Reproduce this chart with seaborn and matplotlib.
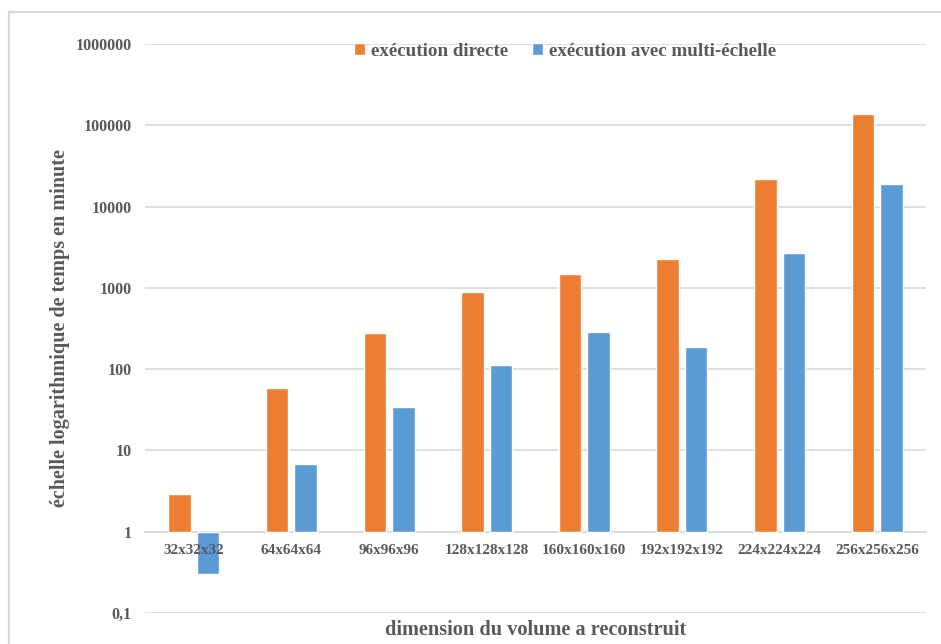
import matplotlib
matplotlib.use('Agg')
import matplotlib.pyplot as plt
import numpy as np
import pandas as pd
import seaborn as sns
from matplotlib.patches import Rectangle
from matplotlib.ticker import FixedLocator

# Data (minutes)
categories = ['32x32x32', '64x64x64', '96x96x96', '128x128x128',
              '160x160x160', '192x192x192', '224x224x224', '256x256x256']
direct = [2.9, 58, 275, 890, 1480, 2250, 21700, 137000]
multi = [0.3, 6.8, 34, 113, 285, 188, 2680, 18800]
series = ['exécution directe', 'exécution avec multi-échelle']
tick_values = [0.1, 1, 10, 100, 1000, 10000, 100000, 1000000]
tick_labels = ['0,1', '1', '10', '100', '1000', '10000', '100000', '1000000']

df = pd.DataFrame({
    'dim': categories * 2,
    'serie': [series[0]] * len(categories) + [series[1]] * len(categories),
    'temps': direct + multi,
})
# Excel-style log axis crossing at 1: bars drawn in log10 units from 0
df['log_temps'] = np.log10(df['temps'])

sns.set_style('white')
plt.rcParams['font.family'] = ['Liberation Serif', 'DejaVu Serif']
plt.rcParams['font.weight'] = 'bold'
txt = '#595959'
grid = '#D9D9D9'

fig = plt.figure(figsize=(9.41, 6.44), dpi=100)
ax = fig.add_axes([145 / 941, 1 - 613 / 644, 781 / 941, 569 / 644])

sns.barplot(data=df, x='dim', y='log_temps', hue='serie',
            palette=['#ED7D31', '#5B9BD5'], width=0.585, gap=0.21,
            saturation=1, ax=ax, zorder=2)

ax.set_xlim(-0.5, len(categories) - 0.5)
ax.set_ylim(np.log10(tick_values[0]), np.log10(tick_values[-1]))
ax.yaxis.set_major_locator(FixedLocator(np.log10(tick_values)))
ax.set_yticklabels(tick_labels)
ax.yaxis.grid(True, color=grid, linewidth=1.2)
ax.set_axisbelow(True)
ax.xaxis.set_zorder(4)  # category labels sit over the negative bar

for s in ['top', 'right', 'left']:
    ax.spines[s].set_visible(False)
ax.spines['bottom'].set_position(('data', 0))
ax.spines['bottom'].set_color(grid)
ax.spines['bottom'].set_linewidth(1.2)
ax.spines['bottom'].set_zorder(1)

ax.tick_params(axis='both', length=0, colors=txt)
ax.tick_params(axis='x', labelsize=11, pad=9)
ax.tick_params(axis='y', labelsize=11.6, pad=9.5)

ax.set_xlabel('dimension du volume a reconstruit', fontsize=14.6,
              color=txt, fontweight='bold')
ax.xaxis.set_label_coords(0.5, -0.012)
ax.xaxis.label.set_va('top')
ax.set_ylabel('échelle logarithmique de temps en minute', fontsize=14.5,
              color=txt, fontweight='bold')
ax.yaxis.set_label_coords(-0.096, 0.5)

leg = ax.legend(loc='center', bbox_to_anchor=(0.538, 1 - 7 / 569), ncol=2,
                frameon=False, fontsize=13.7, handlelength=0.6,
                handleheight=0.6, handletextpad=0.3, columnspacing=1.25)
for t in leg.get_texts():
    t.set_color(txt)
    t.set_fontweight('bold')

# light chart-area border as in the spreadsheet export
fig.patches.append(Rectangle((9 / 941, -0.1), 1.2, 1 - 12 / 644 + 0.1,
                             transform=fig.transFigure, fill=False,
                             edgecolor=grid, linewidth=1.6))

fig.savefig('out.png', dpi=100)
